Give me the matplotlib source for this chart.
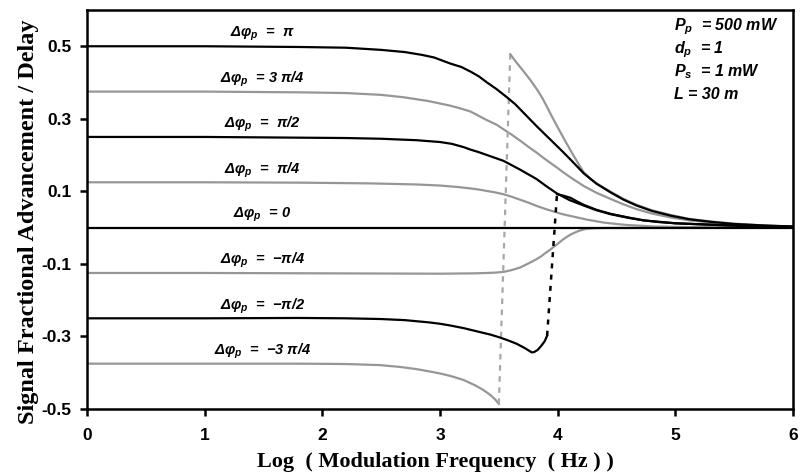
import matplotlib
matplotlib.use("Agg")
import matplotlib.pyplot as plt

plt.rcParams["axes.unicode_minus"] = False
plt.rcParams["mathtext.fontset"] = "custom"
plt.rcParams["mathtext.it"] = "Liberation Sans:italic:bold"
plt.rcParams["mathtext.rm"] = "Liberation Sans:italic:bold"
plt.rcParams["mathtext.bf"] = "Liberation Sans:italic:bold"

GRAY = "#969696"

# curves (x = log10 of modulation frequency)
x_pi = [0, 1.0, 1.8, 2.2, 2.5, 2.7, 2.85, 2.95, 3.09, 3.18, 3.26, 3.33, 3.40, 3.48, 3.57, 3.64, 3.70, 3.76,
        3.82, 3.88, 3.94, 4.0, 4.05, 4.12, 4.22, 4.33, 4.45, 4.56, 4.67, 4.8, 4.96, 5.12, 5.3, 5.5, 5.75, 6.0]
y_pi = [0.500, 0.500, 0.498, 0.496, 0.490, 0.484, 0.476, 0.469, 0.452, 0.443, 0.430, 0.417, 0.400, 0.382,
        0.359, 0.340, 0.320, 0.300, 0.280, 0.261, 0.242, 0.223, 0.207, 0.184, 0.150, 0.121, 0.097, 0.077,
        0.061, 0.046, 0.033, 0.023, 0.016, 0.010, 0.006, 0.003]

x_3pi4 = [0, 1.0, 1.8, 2.2, 2.5, 2.7, 2.9, 3.09, 3.18, 3.26, 3.33, 3.40, 3.48, 3.54, 3.61, 3.68, 3.75, 3.82,
          3.88, 3.94, 4.0, 4.05, 4.12, 4.22, 4.33, 4.45, 4.56, 4.67, 4.8, 4.96, 5.12, 5.3, 5.5, 5.75, 6.0]
y_3pi4 = [0.375, 0.375, 0.373, 0.371, 0.366, 0.359, 0.349, 0.336, 0.328, 0.320, 0.308, 0.296, 0.284, 0.271,
          0.256, 0.240, 0.223, 0.207, 0.192, 0.178, 0.164, 0.152, 0.136, 0.115, 0.096, 0.079, 0.064, 0.051,
          0.039, 0.028, 0.020, 0.014, 0.009, 0.005, 0.002]

x_pi2 = [0, 1.0, 1.8, 2.2, 2.5, 2.8, 3.0, 3.1, 3.2, 3.26, 3.33, 3.40, 3.47, 3.54, 3.61, 3.68, 3.75, 3.82,
         3.9, 3.99, 4.1, 4.22, 4.33, 4.45, 4.6, 4.73, 4.87, 5.0, 5.3, 5.65, 6.0]
y_pi2 = [0.25, 0.25, 0.248, 0.247, 0.245, 0.241, 0.236, 0.231, 0.222, 0.215, 0.208, 0.200, 0.192, 0.184,
         0.172, 0.160, 0.147, 0.134, 0.115, 0.095, 0.076, 0.061, 0.048, 0.037, 0.027, 0.020, 0.015, 0.012,
         0.008, 0.004, 0.002]

x_pi4 = [0, 1.0, 1.8, 2.4, 2.8, 3.0, 3.15, 3.26, 3.33, 3.40, 3.47, 3.54, 3.61, 3.68, 3.75, 3.82, 3.89, 3.96,
         4.03, 4.11, 4.18, 4.25, 4.32, 4.39, 4.5, 4.6, 4.72, 4.82, 5.0, 5.3, 6.0]
y_pi4 = [0.125, 0.125, 0.124, 0.122, 0.119, 0.116, 0.112, 0.108, 0.105, 0.101, 0.097, 0.092, 0.085, 0.077,
         0.069, 0.060, 0.052, 0.045, 0.038, 0.032, 0.027, 0.022, 0.018, 0.014, 0.010, 0.007, 0.005, 0.003,
         0.002, 0.001, 0.0]

x_zero = [0, 6.0]
y_zero = [0.0, 0.0]

x_mpi4 = [0, 1.0, 2.0, 3.0, 3.3, 3.4, 3.47, 3.54, 3.61, 3.68, 3.75, 3.82, 3.86, 3.90, 3.94, 3.97, 4.01,
          4.04, 4.08, 4.11, 4.15, 4.18, 4.22, 4.25, 4.32, 4.4, 6.0]
y_mpi4 = [-0.125, -0.125, -0.126, -0.127, -0.126, -0.125, -0.124, -0.122, -0.117, -0.110, -0.099, -0.087,
          -0.079, -0.069, -0.060, -0.052, -0.042, -0.034, -0.025, -0.019, -0.013, -0.009, -0.005, -0.003,
          -0.0015, -0.001, 0.0]

x_mpi2 = [0, 1.0, 1.8, 2.2, 2.5, 2.7, 2.9, 3.0, 3.09, 3.2, 3.34, 3.43, 3.51, 3.58, 3.65, 3.72, 3.76, 3.78,
          3.80, 3.83, 3.86, 3.89, 3.91]
y_mpi2 = [-0.25, -0.25, -0.249, -0.250, -0.252, -0.255, -0.261, -0.265, -0.270, -0.277, -0.288, -0.295,
          -0.303, -0.311, -0.320, -0.332, -0.340, -0.344, -0.343, -0.337, -0.326, -0.313, -0.298]

x_mpi2_jump = [3.91, 3.994]
y_mpi2_jump = [-0.298, 0.092]

x_mpi2_top = [3.994, 4.05, 4.11, 4.16, 4.22, 4.33, 4.45, 4.6, 4.73, 5.0, 5.3, 5.65, 6.0]
y_mpi2_top = [0.092, 0.088, 0.082, 0.073, 0.063, 0.049, 0.038, 0.028, 0.020, 0.012, 0.008, 0.004, 0.002]

x_m3pi4 = [0, 1.0, 1.8, 2.2, 2.49, 2.66, 2.8, 2.92, 3.0, 3.09, 3.2, 3.3, 3.37, 3.43, 3.47, 3.50]
y_m3pi4 = [-0.375, -0.375, -0.375, -0.376, -0.379, -0.384, -0.390, -0.397, -0.402, -0.409, -0.420, -0.435,
           -0.448, -0.462, -0.474, -0.486]

x_m3pi4_jump = [3.50, 3.597]
y_m3pi4_jump = [-0.486, 0.478]

x_m3pi4_top = [3.597, 3.65, 3.71, 3.77, 3.824, 3.87, 3.909, 3.95, 3.994, 4.04, 4.079, 4.136, 4.18, 4.22,
               4.28, 4.33, 4.45, 4.56, 4.67, 4.8, 4.96, 5.12, 5.3, 5.5, 5.75, 6.0]
y_m3pi4_top = [0.478, 0.455, 0.431, 0.406, 0.381, 0.357, 0.333, 0.307, 0.280, 0.253, 0.230, 0.198, 0.174,
               0.153, 0.134, 0.122, 0.099, 0.079, 0.063, 0.048, 0.035, 0.024, 0.017, 0.011, 0.006, 0.003]

phase_levels = [0.5, 0.375, 0.25, 0.125, 0.0, -0.125, -0.25, -0.375]
phase_labels = ["Δφ$_p$  =  π", "Δφ$_p$  = 3 π/4", "Δφ$_p$  =  π/2", "Δφ$_p$  =  π/4",
                "Δφ$_p$  = 0", "Δφ$_p$  =  −π/4", "Δφ$_p$  =  −π/2", "Δφ$_p$  =  −3 π/4"]

param_lines = ["P$_p$  = 500 mW", "d$_p$  = 1", "P$_s$  = 1 mW", "L = 30 m"]

x_ticks = [0, 1, 2, 3, 4, 5, 6]
y_ticks = [-0.5, -0.3, -0.1, 0.1, 0.3, 0.5]

fig = plt.figure(figsize=(8.07, 4.73), dpi=100)
ax = fig.add_axes([0.1078, 0.1353, 0.8749, 0.8436])

lw = 1.6
# gray curves
ax.plot(x_3pi4, y_3pi4, color=GRAY, lw=lw)
ax.plot(x_pi4, y_pi4, color=GRAY, lw=lw)
ax.plot(x_mpi4, y_mpi4, color=GRAY, lw=lw)
ax.plot(x_m3pi4, y_m3pi4, color=GRAY, lw=lw)
ax.plot(x_m3pi4_jump, y_m3pi4_jump, color="#a8a8a8", lw=1.6, ls=(0, (2.5, 2.5)))
ax.plot(x_m3pi4_top, y_m3pi4_top, color=GRAY, lw=lw)
# black curves
ax.plot(x_zero, y_zero, color="black", lw=lw)
ax.plot(x_pi, y_pi, color="black", lw=lw)
ax.plot(x_pi2, y_pi2, color="black", lw=lw)
ax.plot(x_mpi2, y_mpi2, color="black", lw=lw)
ax.plot(x_mpi2_jump, y_mpi2_jump, color="black", lw=1.8, ls=(0, (2, 2.5)))
ax.plot(x_mpi2_top, y_mpi2_top, color="black", lw=lw)

for lev, lab in zip(phase_levels, phase_labels):
    ax.text(1.49, lev + 0.034, lab, ha="center", va="center", fontsize=10.5,
            family="Liberation Sans", fontweight="bold", style="italic")

for i, line in enumerate(param_lines):
    ax.text(0.832, 0.958 - i * 0.0564, line, transform=ax.transAxes, ha="left", va="center",
            fontsize=11.5, family="Liberation Sans", fontweight="bold", style="italic")

ax.set_xlim(0, 6)
ax.set_ylim(-0.5, 0.6)
ax.set_xticks(x_ticks)
ax.set_yticks(y_ticks)
ax.set_xticklabels([str(t) for t in x_ticks])
ax.set_yticklabels(["%.1f" % t for t in y_ticks])
for lbl in ax.get_xticklabels() + ax.get_yticklabels():
    lbl.set_family("Liberation Sans")
    lbl.set_fontweight("bold")
    lbl.set_fontsize(12.5)
ax.tick_params(axis="x", direction="out", length=5, width=1.8, pad=9)
ax.tick_params(axis="y", direction="out", length=5, width=1.8, pad=6)

for sp in ax.spines.values():
    sp.set_linewidth(1.8)

ax.set_xlabel("Log  ( Modulation Frequency  ( Hz ) )", family="Liberation Serif",
              fontweight="bold", fontsize=16)
ax.xaxis.set_label_coords(0.493, -0.108)
ax.set_ylabel("Signal Fractional Advancement / Delay", family="Liberation Serif",
              fontweight="bold", fontsize=17.5)
ax.yaxis.set_label_coords(-0.068, 0.469)

fig.savefig("out.png", dpi=100)
